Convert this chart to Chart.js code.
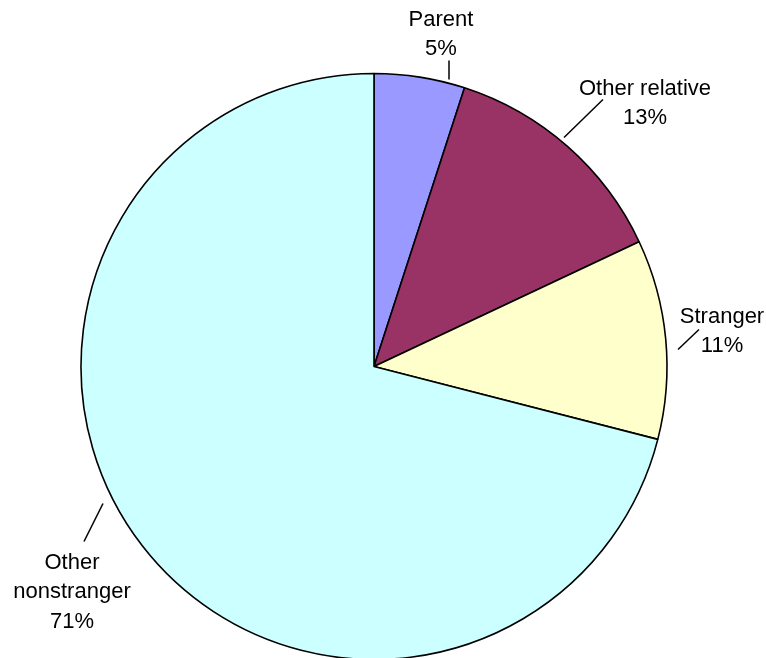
<!DOCTYPE html>
<html>
<head>
<meta charset="utf-8">
<script src="https://cdn.jsdelivr.net/npm/chart.js@4/dist/chart.umd.min.js"></script>
<style>
  html, body { margin: 0; padding: 0; background: #ffffff; overflow: hidden; }
  #wrap { width: 766px; height: 658px; }
</style>
</head>
<body>
<div id="wrap"><canvas id="c" width="766" height="658"></canvas></div>
<script>
// ---- Data ----
const categories = ['Parent', 'Other relative', 'Stranger', 'Other nonstranger'];
const values = [5, 13, 11, 71];
const labelLines = [['Parent'], ['Other relative'], ['Stranger'], ['Other', 'nonstranger']];
const colors = ['#9999FF', '#993366', '#FFFFCC', '#CCFFFF'];

// Label placement (offsets from pie centre, px): text centre x, first line centre y, leader line
const labelLayout = [
  { tx: 67,   ty: -347, lx1: 75,   ly1: -306, lx2: 75,   ly2: -287 },
  { tx: 271,  ty: -278, lx1: 229,  ly1: -267, lx2: 190,  ly2: -229 },
  { tx: 348,  ty: -50,  lx1: 325,  ly1: -37,  lx2: 304,  ly2: -17 },
  { tx: -302, ty: 196,  lx1: -271, ly1: 137,  lx2: -290, ly2: 175 }
];

const total = values.reduce((a, b) => a + b, 0);

const labelPlugin = {
  id: 'outsideLabels',
  afterDatasetsDraw(chart) {
    const ctx = chart.ctx;
    const meta = chart.getDatasetMeta(0);
    ctx.save();
    ctx.fillStyle = '#000000';
    ctx.strokeStyle = '#000000';
    ctx.lineWidth = 1.5;
    ctx.font = '22px "Liberation Sans", Arial, sans-serif';
    ctx.textAlign = 'center';
    ctx.textBaseline = 'middle';
    const lineH = 29.5;
    meta.data.forEach((arc, i) => {
      const cx = arc.x, cy = arc.y;
      const L = labelLayout[i];
      ctx.beginPath();
      ctx.moveTo(cx + L.lx1, cy + L.ly1);
      ctx.lineTo(cx + L.lx2, cy + L.ly2);
      ctx.stroke();
      const pct = Math.round(values[i] / total * 100) + '%';
      const lines = labelLines[i].concat([pct]);
      lines.forEach((t, k) => {
        ctx.fillText(t, cx + L.tx, cy + L.ty + k * lineH);
      });
    });
    ctx.restore();
  }
};

new Chart(document.getElementById('c'), {
  type: 'pie',
  data: {
    labels: categories,
    datasets: [{
      data: values,
      backgroundColor: colors,
      borderColor: '#000000',
      borderWidth: 1.6,
      radius: 293,
      clip: false
    }]
  },
  options: {
    responsive: false,
    animation: false,
    layout: { padding: { left: 0, right: 18, top: 75, bottom: 0 } },
    plugins: {
      legend: { display: false },
      tooltip: { enabled: false }
    },
    events: []
  },
  plugins: [labelPlugin]
});
</script>
</body>
</html>
